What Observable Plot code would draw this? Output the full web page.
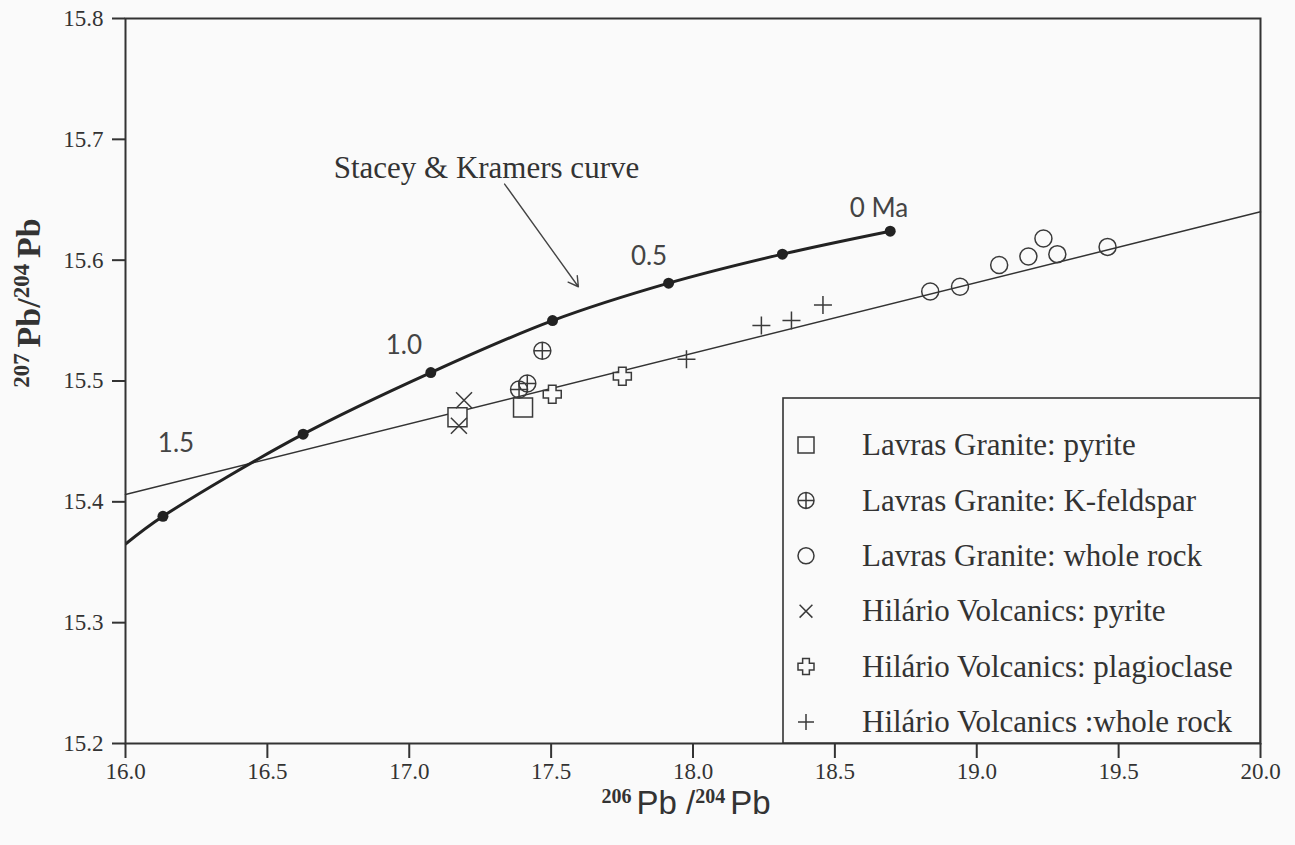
<!DOCTYPE html>
<html><head><meta charset="utf-8">
<script src="https://cdn.jsdelivr.net/npm/d3@7"></script>
<script src="https://cdn.jsdelivr.net/npm/@observablehq/plot@0.6"></script>
<style>
html,body{margin:0;padding:0;background:#fafafa;}
#chart{position:relative;width:1295px;height:845px;}
</style></head><body><div id="chart"></div>
<script>
// ---------- data ----------
const xTicks = [16.0, 16.5, 17.0, 17.5, 18.0, 18.5, 19.0, 19.5, 20.0];
const yTicks = [15.2, 15.3, 15.4, 15.5, 15.6, 15.7, 15.8];

// Stacey & Kramers growth curve (first point = where it meets the left axis)
const skCurveX = [16.0, 16.132, 16.626, 17.076, 17.505, 17.914, 18.315, 18.695];
const skCurveY = [15.365, 15.388, 15.456, 15.507, 15.550, 15.581, 15.605, 15.624];
// dated points on the curve
const skDotX = [16.132, 16.626, 17.076, 17.505, 17.914, 18.315, 18.695];
const skDotY = [15.388, 15.456, 15.507, 15.550, 15.581, 15.605, 15.624];
// age labels
const ageLabels = ["1.5", "1.0", "0.5", "0 Ma"];
const ageLabelX = [16.178, 16.981, 17.845, 18.655];
const ageLabelY = [15.448, 15.529, 15.603, 15.643];

// reference (isochron) line
const refX = [16.0, 20.0];
const refY = [15.406, 15.640];

// samples
const lavrasPyriteX = [17.170, 17.401];
const lavrasPyriteY = [15.470, 15.478];
const lavrasKfsX = [17.469, 17.416, 17.387];
const lavrasKfsY = [15.525, 15.498, 15.493];
const lavrasWrX = [18.836, 18.941, 19.079, 19.182, 19.235, 19.284, 19.461];
const lavrasWrY = [15.574, 15.578, 15.596, 15.603, 15.618, 15.605, 15.611];
const hilarioPyriteX = [17.193, 17.175];
const hilarioPyriteY = [15.484, 15.463];
const hilarioPlagX = [17.504, 17.751];
const hilarioPlagY = [15.489, 15.504];
const hilarioWrX = [17.977, 18.241, 18.347, 18.458];
const hilarioWrY = [15.518, 15.546, 15.550, 15.563];

const seriesNames = [
  "Lavras Granite: pyrite",
  "Lavras Granite: K-feldspar",
  "Lavras Granite: whole rock",
  "Hilário Volcanics: pyrite",
  "Hilário Volcanics: plagioclase",
  "Hilário Volcanics :whole rock"
];

// annotation
const noteText = "Stacey & Kramers curve";
const noteX = 17.272, noteY = 15.676;
const arrowX1 = 17.336, arrowY1 = 15.663, arrowX2 = 17.596, arrowY2 = 15.578;

// ---------- helpers ----------
const pts = (xs, ys) => xs.map((x, i) => ({x, y: ys[i]}));
const rOf = s => Math.sqrt(s / Math.PI);
const symSquare = {draw(c, s){const r = rOf(s); c.rect(-r, -r, 2*r, 2*r);}};
const symCircle = {draw(c, s){const r = rOf(s); c.moveTo(r, 0); c.arc(0, 0, r, 0, 2*Math.PI); c.closePath();}};
const symCirclePlus = {draw(c, s){const r = rOf(s); c.moveTo(r, 0); c.arc(0, 0, r, 0, 2*Math.PI); c.closePath();
  c.moveTo(-r, 0); c.lineTo(r, 0); c.moveTo(0, -r); c.lineTo(0, r);}};
const symTimes = {draw(c, s){const r = rOf(s)*0.8; c.moveTo(-r, -r); c.lineTo(r, r); c.moveTo(-r, r); c.lineTo(r, -r);}};
const symPlus = {draw(c, s){const r = rOf(s); c.moveTo(-r, 0); c.lineTo(r, 0); c.moveTo(0, -r); c.lineTo(0, r);}};
const symCross = {draw(c, s){const r = rOf(s), a = r*0.42;
  c.moveTo(-a, -r); c.lineTo(a, -r); c.lineTo(a, -a); c.lineTo(r, -a); c.lineTo(r, a); c.lineTo(a, a);
  c.lineTo(a, r); c.lineTo(-a, r); c.lineTo(-a, a); c.lineTo(-r, a); c.lineTo(-r, -a); c.lineTo(-a, -a); c.closePath();}};

const BG = "#fafafa", INK = "#333";
const symSpecs = [
  {sym: symSquare, r: 9.5, fill: BG},
  {sym: symCirclePlus, r: 8.5, fill: "none"},
  {sym: symCircle, r: 8.5, fill: "none"},
  {sym: symTimes, r: 10, fill: "none"},
  {sym: symCross, r: 9, fill: BG},
  {sym: symPlus, r: 9, fill: "none"}
];
const seriesData = [
  pts(lavrasPyriteX, lavrasPyriteY),
  pts(lavrasKfsX, lavrasKfsY),
  pts(lavrasWrX, lavrasWrY),
  pts(hilarioPyriteX, hilarioPyriteY),
  pts(hilarioPlagX, hilarioPlagY),
  pts(hilarioWrX, hilarioWrY)
];

const serif = "Liberation Serif";
const sans = "Lato";
const narrow = "Liberation Sans Narrow, Liberation Sans";

const plot = Plot.plot({
  width: 1295, height: 845,
  marginLeft: 125, marginRight: 35, marginTop: 18, marginBottom: 102,
  x: {domain: [16, 20]},
  y: {domain: [15.2, 15.8]},
  style: {background: BG, color: INK, fontFamily: serif, fontSize: "23px"},
  marks: [
    Plot.axisX({ticks: xTicks, tickSize: 15, tickPadding: 4, tickFormat: d3.format(".1f"), label: null, strokeWidth: 2}),
    Plot.axisY({ticks: yTicks, tickSize: 13, tickPadding: 9, tickFormat: d3.format(".1f"), label: null, strokeWidth: 2}),
    Plot.line(pts(refX, refY), {x: "x", y: "y", stroke: INK, strokeWidth: 1.5}),
    ...seriesData.map((d, i) => Plot.dot(d, {x: "x", y: "y", symbol: symSpecs[i].sym, r: symSpecs[i].r,
      stroke: "#3a3a3a", strokeWidth: 1.5, fill: symSpecs[i].fill})),
    Plot.line(pts(skCurveX, skCurveY), {x: "x", y: "y", curve: "catmull-rom", stroke: "#222", strokeWidth: 3, clip: true}),
    Plot.dot(pts(skDotX, skDotY), {x: "x", y: "y", r: 5.5, fill: "#222", stroke: "none"}),
    Plot.text(ageLabels.map((t, i) => ({t, x: ageLabelX[i], y: ageLabelY[i], a: i === 3 ? "start" : "middle"})),
      {x: "x", y: "y", text: "t", textAnchor: d => d.a, fontFamily: sans, fontSize: 26, fill: "#444"}),
    Plot.text([{t: noteText, x: noteX, y: noteY}], {x: "x", y: "y", text: "t", fontFamily: serif, fontSize: 31, fill: INK}),
    Plot.arrow([{x1: arrowX1, y1: arrowY1, x2: arrowX2, y2: arrowY2}], {x1: "x1", y1: "y1", x2: "x2", y2: "y2",
      stroke: "#444", strokeWidth: 1.4, headLength: 12, bend: 0}),
    Plot.frame({stroke: INK, strokeWidth: 2})
  ]
});
document.getElementById("chart").appendChild(plot);

const svg = d3.select(plot);

// ---------- legend & axis titles ----------
const lg = svg.append("g");
const L = {x: 783, y: 398, w: 477, h: 345, symX: 806, textX: 862, row0: 445, step: 55.4};
lg.append("rect").attr("x", L.x).attr("y", L.y).attr("width", L.w).attr("height", L.h)
  .attr("fill", BG).attr("stroke", INK).attr("stroke-width", 1.6);
seriesNames.forEach((name, i) => {
  const cy = L.row0 + i * L.step;
  const sp = symSpecs[i];
  lg.append("path").attr("transform", `translate(${L.symX},${cy})`)
    .attr("d", d3.symbol(sp.sym, Math.PI * 8 * 8)())
    .attr("fill", sp.fill).attr("stroke", "#3a3a3a").attr("stroke-width", 1.5);
  lg.append("text").attr("x", L.textX).attr("y", cy).attr("dy", "0.33em").attr("text-anchor", "start")
    .attr("font-family", serif).attr("font-size", 31).attr("fill", INK).text(name);
});

// x axis title: 206Pb/204Pb
const xt = svg.append("text").attr("x", 686).attr("y", 814).attr("text-anchor", "middle").attr("fill", INK);
xt.append("tspan").attr("font-family", serif).attr("font-weight", "bold").attr("font-size", 20).attr("dy", -11).text("206 ");
xt.append("tspan").attr("font-family", narrow).attr("font-size", 33).attr("dy", 11).text("Pb /");
xt.append("tspan").attr("font-family", serif).attr("font-weight", "bold").attr("font-size", 20).attr("dy", -11).text("204 ");
xt.append("tspan").attr("font-family", narrow).attr("font-size", 33).attr("dy", 11).text("Pb");

// y axis title: 207Pb/204Pb (rotated)
const yt = svg.append("text").attr("transform", "translate(40,303) rotate(-90)").attr("text-anchor", "middle")
  .attr("fill", INK).attr("font-family", serif).attr("font-weight", "bold");
yt.append("tspan").attr("font-size", 23).attr("dy", -11).text("207 ");
yt.append("tspan").attr("font-size", 34).attr("dy", 11).text("Pb/");
yt.append("tspan").attr("font-size", 23).attr("dy", -11).text("204 ");
yt.append("tspan").attr("font-size", 34).attr("dy", 11).text("Pb");
</script></body></html>
